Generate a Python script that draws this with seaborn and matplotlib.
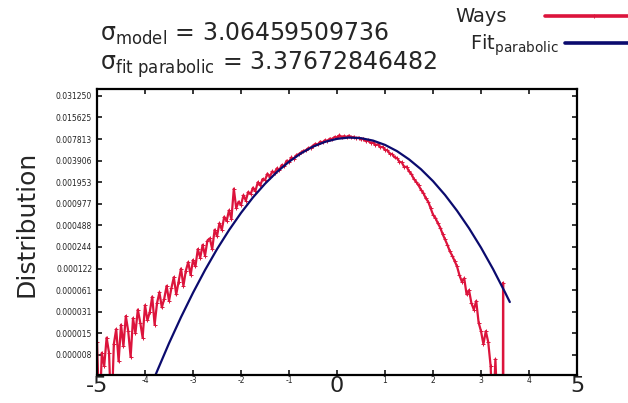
import numpy as np
import pandas as pd
import matplotlib
matplotlib.use('Agg')
import matplotlib.pyplot as plt
import seaborn as sns

# data (y values given as log2 of the distribution)
ways_x = [
    -5.00, -4.95, -4.90, -4.85, -4.80, -4.75, -4.70, -4.65, -4.60, -4.55,
    -4.50, -4.45, -4.40, -4.35, -4.30, -4.25, -4.20, -4.15, -4.10, -4.05,
    -4.00, -3.95, -3.90, -3.85, -3.80, -3.75, -3.70, -3.65, -3.60, -3.55,
    -3.50, -3.45, -3.40, -3.35, -3.30, -3.25, -3.20, -3.15, -3.10, -3.05,
    -3.00, -2.95, -2.90, -2.85, -2.80, -2.75, -2.70, -2.65, -2.60, -2.55,
    -2.50, -2.45, -2.40, -2.35, -2.30, -2.25, -2.20, -2.15, -2.10, -2.05,
    -2.00, -1.95, -1.90, -1.85, -1.80, -1.75, -1.70, -1.65, -1.60, -1.55,
    -1.50, -1.45, -1.40, -1.35, -1.30, -1.25, -1.20, -1.15, -1.10, -1.05,
    -1.00, -0.95, -0.90, -0.85, -0.80, -0.75, -0.70, -0.65, -0.60, -0.55,
    -0.50, -0.45, -0.40, -0.35, -0.30, -0.25, -0.20, -0.15, -0.10, -0.05,
    0.00, 0.05, 0.10, 0.15, 0.20, 0.25, 0.30, 0.35, 0.40, 0.45,
    0.50, 0.55, 0.60, 0.65, 0.70, 0.75, 0.80, 0.85, 0.90, 0.95,
    1.00, 1.05, 1.10, 1.15, 1.20, 1.25, 1.30, 1.35, 1.40, 1.45,
    1.50, 1.55, 1.60, 1.65, 1.70, 1.75, 1.80, 1.85, 1.90, 1.95,
    2.00, 2.05, 2.10, 2.15, 2.20, 2.25, 2.30, 2.35, 2.40, 2.45,
    2.50, 2.55, 2.60, 2.65, 2.70, 2.75, 2.80, 2.85, 2.90, 2.95,
    3.00, 3.05, 3.10, 3.15, 3.20, 3.25, 3.30, 3.35, 3.40,
    3.455, 3.46, 3.465,
]
ways_log2 = [
    -16.4, -20.0, -16.9, -17.5, -16.2, -16.9, -20.0, -16.5, -15.8, -17.3,
    -15.6, -16.6, -15.2, -15.9, -17.1, -15.3, -16.0, -14.9, -15.5, -16.2,
    -14.7, -15.4, -15.0, -14.3, -15.6, -14.6, -14.1, -14.8, -14.4, -13.8,
    -14.5, -13.9, -13.4, -14.2, -13.6, -13.0, -13.8, -13.1, -12.7, -13.3,
    -12.6, -12.9, -12.1, -12.5, -11.9, -12.4, -11.7, -11.6, -12.1, -11.2,
    -11.5, -10.9, -11.2, -10.6, -10.8, -10.3, -10.7, -9.3, -10.2, -9.9,
    -10.05, -9.6, -9.85, -9.45, -9.55, -9.25, -9.4, -9.0, -9.15, -8.85,
    -8.9, -8.6, -8.75, -8.5, -8.55, -8.35, -8.42, -8.2, -8.25, -8.0,
    -8.05, -7.85, -7.92, -7.75, -7.7, -7.62, -7.55, -7.52, -7.42, -7.4,
    -7.3, -7.22, -7.25, -7.12, -7.15, -7.05, -7.08, -6.98, -7.0, -6.9,
    -6.92, -6.82, -6.92, -6.86, -6.9, -6.84, -6.92, -6.9, -6.96, -6.93,
    -7.02, -6.98, -7.1, -7.06, -7.18, -7.15, -7.28, -7.24, -7.38, -7.36,
    -7.5, -7.52, -7.68, -7.7, -7.85, -7.88, -8.05, -8.08, -8.3, -8.28,
    -8.5, -8.62, -8.85, -8.98, -9.15, -9.35, -9.5, -9.75, -9.9, -10.2,
    -10.5, -10.65, -10.9, -11.1, -11.4, -11.65, -11.9, -12.2, -12.4, -12.65,
    -12.9, -13.3, -13.6, -13.45, -14.2, -14.0, -14.6, -14.9, -14.5, -15.5,
    -15.9, -16.5, -15.9, -16.4, -17.5, -20.0, -17.2, -20.0, -20.0,
    -20.0, -13.66, -20.0,
]

fit_x = [-4.0, -3.75, -3.5, -3.25, -3.0, -2.75, -2.5, -2.25, -2.0, -1.75,
         -1.5, -1.25, -1.0, -0.75, -0.5, -0.25, 0.0, 0.25, 0.5, 0.75,
         1.0, 1.25, 1.5, 1.75, 2.0, 2.25, 2.5, 2.75, 3.0, 3.25, 3.5, 3.6]
fit_log2 = [-19.1, -17.76, -16.46, -15.25, -14.12, -13.07, -12.10, -11.22, -10.42, -9.70,
            -9.07, -8.52, -8.05, -7.66, -7.35, -7.13, -6.99, -6.93, -6.96, -7.07,
            -7.27, -7.56, -7.94, -8.40, -8.95, -9.59, -10.32, -11.13, -12.03, -13.02, -14.10, -14.55]

y_ticks_log2 = [-5, -6, -7, -8, -9, -10, -11, -12, -13, -14, -15, -16, -17]
y_tick_labels = ['0.031250', '0.015625', '0.007813', '0.003906', '0.001953', '0.000977',
                 '0.000488', '0.000244', '0.000122', '0.000061', '0.000031', '0.000015',
                 '0.000008']
x_ticks = [-5, -4, -3, -2, -1, 0, 1, 2, 3, 4, 5]
x_tick_labels = ['-5', '-4', '-3', '-2', '-1', '0', '1', '2', '3', '4', '5']
big_x_labels = ['-5', '0', '5']

sigma_model = '3.06459509736'
sigma_fit = '3.37672846482'

sns.set_style('ticks')
plt.rcParams['font.family'] = ['DejaVu Sans']

df_ways = pd.DataFrame({'x': ways_x, 'y': np.power(2.0, ways_log2)})
df_fit = pd.DataFrame({'x': fit_x, 'y': np.power(2.0, fit_log2)})

red = '#dc143c'
navy = '#0b0b6e'

fig = plt.figure(figsize=(6.28, 4.03), dpi=100)
ax = fig.add_axes([0.1545, 0.0695, 0.7643, 0.7097])

sns.lineplot(data=df_ways, x='x', y='y', ax=ax, color=red, linewidth=1.6,
             marker='+', markersize=3, markeredgewidth=0.7, markeredgecolor=red,
             estimator=None, sort=False, label='Ways')
sns.lineplot(data=df_fit, x='x', y='y', ax=ax, color=navy, linewidth=1.6,
             estimator=None, sort=False, label=r'Fit$_{\mathrm{parabolic}}$')
if ax.get_legend() is not None:
    ax.get_legend().remove()

ax.set_yscale('log', base=2)
ax.set_xlim(-5, 5)
ax.set_ylim(2.0 ** -17.93, 2.0 ** -4.68)

ax.set_yticks([2.0 ** e for e in y_ticks_log2])
ax.set_yticklabels(y_tick_labels)
ax.minorticks_off()
ax.set_xticks(x_ticks)
ax.set_xticklabels(x_tick_labels)
for lab in ax.get_xticklabels():
    lab.set_fontsize(16 if lab.get_text() in big_x_labels else 5.5)
for lab in ax.get_yticklabels():
    lab.set_fontsize(5.5)

ax.tick_params(direction='in', length=3.5, width=1.1, top=True, right=True,
               colors='black', labelcolor='#222222')
ax.tick_params(axis='x', pad=1)
ax.tick_params(axis='y', pad=3.5)
for s in ax.spines.values():
    s.set_linewidth(1.6)
    s.set_color('black')

ax.set_xlabel('')
ax.set_ylabel('Distribution', fontsize=18)
ax.yaxis.set_label_coords(-0.121, 0.53)

# text block at the top
fig.text(100 / 628, 1 - 41 / 403, 'σ$_{\\mathrm{model}}$ = ' + sigma_model, fontsize=17)
fig.text(100 / 628, 1 - 70 / 403, 'σ$_{\\mathrm{fit\\ parabolic}}$ = ' + sigma_fit, fontsize=17)

# legend entries, text before the line, lines running off the right edge
h, l = ax.get_legend_handles_labels()
leg1 = fig.legend([h[0]], [l[0]], loc='center left', bbox_to_anchor=(455 / 628, 1 - 17 / 403),
                  markerfirst=False, frameon=False, fontsize=14, handlelength=5,
                  handletextpad=2.0, borderpad=0, borderaxespad=0)
leg2 = fig.legend([h[1]], [l[1]], loc='center left', bbox_to_anchor=(470 / 628, 1 - 45 / 403),
                  markerfirst=False, frameon=False, fontsize=14, handlelength=5,
                  handletextpad=0.3, borderpad=0, borderaxespad=0)
for lg in (leg1, leg2):
    for ln in lg.get_lines():
        ln.set_linewidth(2.6)

fig.savefig('out.png', dpi=100)
